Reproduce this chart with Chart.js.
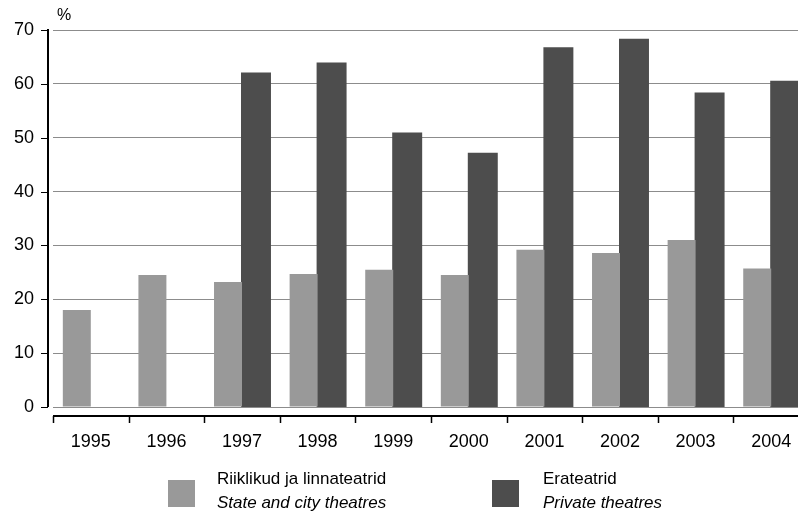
<!DOCTYPE html>
<html>
<head>
<meta charset="utf-8">
<script src="https://cdn.jsdelivr.net/npm/chart.js@4/dist/chart.umd.min.js"></script>
<style>
  html, body { margin: 0; padding: 0; background: #fff; overflow: hidden; }
  body { width: 798px; height: 513px; position: relative; font-family: "Liberation Sans", Arial, sans-serif; color: #000; }
  #wrap { position: absolute; left: 0; top: 0; width: 812px; height: 513px; }
  .unit { position: absolute; left: 57px; top: 6px; font-size: 16px; }
  .sw { position: absolute; width: 27px; height: 27px; top: 480px; }
  .lg { position: absolute; top: 467px; font-size: 17px; line-height: 24px; white-space: nowrap; }
  .lg i { font-style: italic; }
</style>
</head>
<body>
<div id="wrap"><canvas id="chart" width="812" height="513"></canvas></div>
<div class="unit">%</div>
<div class="sw" style="left:168px;background:#999999"></div>
<div class="lg" style="left:217px">Riiklikud ja linnateatrid<br><i>State and city theatres</i></div>
<div class="sw" style="left:492px;background:#4d4d4d"></div>
<div class="lg" style="left:543px">Erateatrid<br><i>Private theatres</i></div>

<script>
const years   = ['1995', '1996', '1997', '1998', '1999', '2000', '2001', '2002', '2003', '2004'];
const stateCity = [18.0, 24.5, 23.2, 24.7, 25.5, 24.5, 29.2, 28.6, 31.0, 25.7];
const privateT  = [null, null, 61.9, 63.8, 50.8, 47.0, 66.6, 68.2, 58.2, 60.4];

const FONT = '"Liberation Sans", Arial, sans-serif';

// axis lines sit a little away from the plot, so draw them by hand
const axisLines = {
  id: 'axisLines',
  afterDraw(chart) {
    const { ctx, chartArea: a, scales: { x, y } } = chart;
    ctx.save();
    ctx.strokeStyle = '#000';

    ctx.lineWidth = 2;
    ctx.beginPath();
    ctx.moveTo(48, a.top - 1);
    ctx.lineTo(48, a.bottom);
    ctx.stroke();

    ctx.lineWidth = 1;
    y.ticks.forEach(t => {
      const py = Math.round(y.getPixelForValue(t.value)) + 0.5;
      ctx.beginPath();
      ctx.moveTo(41, py);
      ctx.lineTo(48, py);
      ctx.stroke();
    });

    const axY = a.bottom + 9;
    ctx.lineWidth = 2;
    ctx.beginPath();
    ctx.moveTo(a.left, axY);
    ctx.lineTo(a.right, axY);
    ctx.stroke();

    const step = (a.right - a.left) / years.length;
    ctx.lineWidth = 1.5;
    for (let i = 0; i <= years.length; i++) {
      const px = Math.round(a.left + i * step) + 0.5;
      ctx.beginPath();
      ctx.moveTo(px, axY);
      ctx.lineTo(px, axY + 7);
      ctx.stroke();
    }
    ctx.restore();
  }
};

new Chart(document.getElementById('chart'), {
  type: 'bar',
  data: {
    labels: years,
    datasets: [
      { label: 'Riiklikud ja linnateatrid', data: stateCity, backgroundColor: '#999999' },
      { label: 'Erateatrid', data: privateT, backgroundColor: '#4d4d4d', inflateAmount: 1 },
    ]
  },
  options: {
    responsive: false,
    devicePixelRatio: 1,
    animation: false,
    categoryPercentage: 0.74,
    barPercentage: 1,
    layout: { padding: { top: 30, right: 3, left: 0, bottom: 0 } },
    plugins: {
      legend:  { display: false },
      tooltip: { enabled: false },
    },
    scales: {
      x: {
        grid:   { display: false },
        border: { display: false },
        ticks:  { color: '#000', font: { family: FONT, size: 18 }, padding: 16, maxRotation: 0 },
        afterFit: s => { s.height = 106; },
      },
      y: {
        min: 0,
        max: 70,
        ticks:  { stepSize: 10, color: '#000', font: { family: FONT, size: 18 }, padding: 19 },
        grid:   { color: '#8c8c8c', lineWidth: 1, drawTicks: false },
        border: { display: false },
        afterFit: s => { s.width = 53; },
      },
    },
  },
  plugins: [axisLines],
});
</script>
</body>
</html>
